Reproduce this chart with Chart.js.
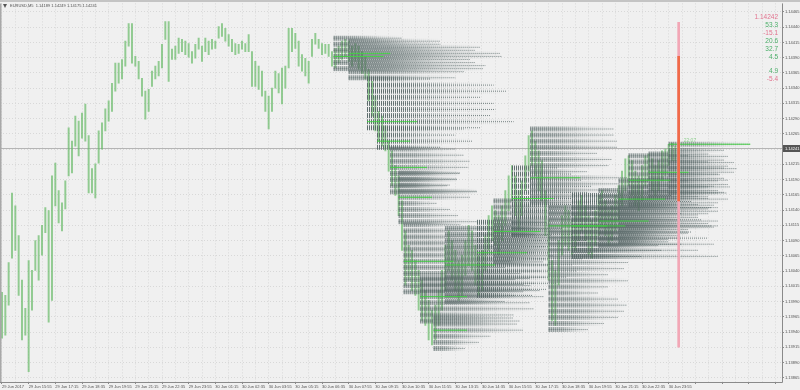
<!DOCTYPE html>
<html>
<head>
<meta charset="utf-8">
<script src="https://cdn.jsdelivr.net/npm/chart.js@4.4.1/dist/chart.umd.min.js"></script>
<style>
  html, body { margin: 0; padding: 0; background: #f0f0f0; }
  #wrap { width: 800px; height: 390px; }
</style>
</head>
<body>
<div id="wrap"><canvas id="chart" width="800" height="390"></canvas></div>
<script>
// ---- data -------------------------------------------------------------
// EURUSD M5, one column = 2 bars (10 min), column j sits at bar index 2*j
const barHigh = [
  1.14005,1.14000,1.14054,1.14168,1.14147,1.14098,1.14025,1.13979,1.14057,1.14041,
  1.14090,1.14098,1.14115,1.14144,1.14139,1.14196,1.14217,1.14172,1.14152,1.14188,
  1.14275,1.14253,1.14294,1.14286,1.14299,1.14314,1.14262,1.14208,1.14216,1.14270,
  1.14283,1.14306,1.14319,1.14348,1.14381,1.14381,1.14387,1.14417,1.14446,1.14446,
  1.14392,1.14384,1.14356,1.14335,1.14338,1.14368,1.14376,1.14384,1.14412,1.14449,
  1.14449,1.14404,1.14409,1.14422,1.14420,1.14417,1.14413,1.14400,1.14412,1.14422,
  1.14409,1.14422,1.14417,1.14420,1.14417,1.14441,1.14446,1.14438,1.14428,1.14420,
  1.14413,1.14412,1.14417,1.14413,1.14428,1.14400,1.14384,1.14376,1.14368,1.14335,
  1.14327,1.14340,1.14368,1.14364,1.14373,1.14376,1.14438,1.14438,1.14430,1.14417,
  1.14395,1.14389,1.14384,1.14420,1.14430,1.14420,1.14413,1.14412,1.14412,1.14400,
  1.14405,1.14409,1.14417,1.14420,1.14417,1.14409,1.14413,1.14409,1.14400,1.14392,
  1.14371,1.14351,1.14327,1.14302,1.14294,1.14278,1.14253,1.14237,1.14213,1.14196,
  1.14155,1.14106,1.14082,1.14074,1.14057,1.14041,1.14025,1.14008,1.13992,1.13976,
  1.13984,1.14008,1.14041,1.14082,1.14106,1.14090,1.14074,1.14057,1.14066,1.14090,
  1.14115,1.14106,1.14082,1.14066,1.14074,1.14098,1.14131,1.14147,1.14139,1.14131,
  1.14147,1.14172,1.14196,1.14213,1.14196,1.14172,1.14188,1.14229,1.14262,1.14270,
  1.14253,1.14237,1.14221,1.14172,1.14123,1.14057,1.14041,1.14090,1.14131,1.14147,
  1.14139,1.14123,1.14131,1.14155,1.14164,1.14147,1.14131,1.14123,1.14139,1.14164,
  1.14172,1.14155,1.14139,1.14147,1.14164,1.14180,1.14204,1.14224,1.14229,1.14221,
  1.14204,1.14196,1.14213,1.14229,1.14232,1.14224,1.14213,1.14221,1.14237,1.14240,
  1.14248,1.14250,1.14245,1.14249
];
const barLow = [
  1.13930,1.13935,1.13984,1.14061,1.14074,1.14000,1.13927,1.13935,1.13875,1.13976,
  1.14041,1.14025,1.14066,1.14103,1.13956,1.13992,1.14147,1.14119,1.14106,1.14142,
  1.14196,1.14201,1.14245,1.14229,1.14258,1.14253,1.14168,1.14168,1.14160,1.14217,
  1.14240,1.14270,1.14286,1.14302,1.14335,1.14348,1.14355,1.14376,1.14409,1.14381,
  1.14376,1.14355,1.14327,1.14289,1.14302,1.14343,1.14355,1.14360,1.14373,1.14420,
  1.14351,1.14387,1.14387,1.14397,1.14400,1.14395,1.14391,1.14381,1.14389,1.14404,
  1.14384,1.14400,1.14395,1.14404,1.14405,1.14422,1.14425,1.14417,1.14409,1.14400,
  1.14395,1.14397,1.14404,1.14400,1.14400,1.14343,1.14343,1.14338,1.14327,1.14302,
  1.14273,1.14302,1.14340,1.14332,1.14314,1.14340,1.14373,1.14400,1.14405,1.14376,
  1.14368,1.14360,1.14348,1.14392,1.14412,1.14405,1.14395,1.14397,1.14392,1.14376,
  1.14373,1.14381,1.14387,1.14392,1.14384,1.14376,1.14384,1.14371,1.14364,1.14355,
  1.14319,1.14294,1.14270,1.14253,1.14245,1.14237,1.14204,1.14180,1.14164,1.14131,
  1.14074,1.14017,1.14025,1.14008,1.14000,1.13976,1.13959,1.13951,1.13927,1.13919,
  1.13927,1.13951,1.13976,1.14008,1.14041,1.14025,1.14008,1.13992,1.14000,1.14033,
  1.14049,1.14041,1.14017,1.14000,1.14008,1.14041,1.14074,1.14090,1.14082,1.14066,
  1.14090,1.14115,1.14139,1.14155,1.14131,1.14106,1.14131,1.14172,1.14204,1.14213,
  1.14196,1.14172,1.14155,1.14098,1.14025,1.13959,1.13951,1.14017,1.14066,1.14082,
  1.14074,1.14066,1.14074,1.14090,1.14106,1.14090,1.14066,1.14061,1.14082,1.14098,
  1.14115,1.14098,1.14082,1.14090,1.14106,1.14123,1.14147,1.14172,1.14180,1.14164,
  1.14147,1.14139,1.14155,1.14180,1.14188,1.14172,1.14164,1.14172,1.14188,1.14196,
  1.14213,1.14221,1.14221,1.14175
];

// market profile blocks: start bar, top row price, row lengths (bars) per 0.0001 row
const profStep = 0.0001;
const profStart = [199,208,219,225,233,238,241,251,259,266,285,295,306,317,328,342,358,370,376,388,400];
const profTop = [1.14422,1.14417,1.14355,1.14273,1.14240,1.14201,1.14116,1.14028,1.13963,1.14110,
                 1.14120,1.14155,1.14209,1.14273,1.14144,1.14164,1.14172,1.14188,1.14229,1.14232,1.14248];
const profLen = [
  [41,64,85,101,85,90],
  [55,79,91,73,82,69,64],
  [38,76,84,68,76,77,74,88,68],
  [52,47,57,38],
  [39,44,48,47,42,40,34,52],
  [37,35,31,47,43,23,31,36,47],
  [34,40,46,52,58,55,64,61,70,67,76,72],
  [66,62,72,74,66,68,56,60],
  [48,50,54,34,27,19],
  [48,54,57,60,54,60,63,57,60,54,51,42,36],
  [42,51,57,66,60,69,63,57,60,54,48,42,33],
  [33,42,51,57,54,60,57,51,45,36,30],
  [27,36,42,48,45,54,51,48,42,36,30,24],
  [50,50,52,52,40,49,47,34,58,54,48,42,36],
  [102,96,78,102,84,78,99,90,102,48,45,36,48,36,30,42,47,45,42,33,24],
  [60,72,84,66,78,84,72,81,66,54,42],
  [48,60,72,66,60,72,69,54,42,36],
  [42,54,60,66,57,60,48,54,42,36,30],
  [36,48,57,54,60,51,57,48,42],
  [36,45,48,51,45,48,42,36],
  [49,33,36,39,41,31,30,37,35]
];
// point of control per block: row index and drawn length (bars)
const pocRow = [3,2,7,2,3,4,6,3,2,6,5,5,5,8,3,5,5,3,4,3,0];
const pocLen = [30,25,30,20,22,20,30,28,20,30,30,28,25,30,35,32,30,28,25,24,49];

// session marker (vertical line)
const markerBar = 406;
const markerRange = [1.13915, 1.14448];
const markerBody = [1.14155, 1.14392];

const lastBid = 1.14241;
const headerText = 'EURUSD,M5  1.14189 1.14249 1.14175 1.14241';
const sideValues = ['1.14242','53.3','-15.1','20.6','32.7','4.5','','4.9','-5.4'];

const yTicks = [1.13865,1.13890,1.13915,1.13940,1.13965,1.13990,1.14015,1.14040,1.14065,1.14090,
                1.14115,1.14140,1.14165,1.14190,1.14215,1.14240,1.14265,1.14290,1.14315,1.14340,
                1.14365,1.14390,1.14415,1.14440,1.14465];
const xLabels = ['29 Jun 2017','29 Jun 15:55','29 Jun 17:15','29 Jun 18:35','29 Jun 19:55','29 Jun 21:15',
                 '29 Jun 22:35','29 Jun 23:55','30 Jun 01:15','30 Jun 02:35','30 Jun 03:55','30 Jun 05:15',
                 '30 Jun 06:35','30 Jun 07:55','30 Jun 09:15','30 Jun 10:35','30 Jun 11:55','30 Jun 13:15',
                 '30 Jun 14:35','30 Jun 15:55','30 Jun 17:15','30 Jun 18:35','30 Jun 19:55','30 Jun 21:15',
                 '30 Jun 22:35','30 Jun 23:55'];

// ---- build datasets ---------------------------------------------------
const barPoints = barHigh.map((h, j) => ({ x: j * 2, y: [barLow[j], h] }));

// each row is a two point segment, a y:null point breaks the line
const profilePoints = [];
profStart.forEach((start, b) => {
  profLen[b].forEach((len, r) => {
    const price = profTop[b] - r * profStep;
    profilePoints.push({ x: start, y: price }, { x: start + len, y: price }, { x: start + len, y: null });
  });
});

const pocPoints = [];
profStart.forEach((start, b) => {
  const price = profTop[b] - pocRow[b] * profStep;
  pocPoints.push({ x: start, y: price }, { x: start + pocLen[b], y: price }, { x: start + pocLen[b], y: null });
});

// dense hatch near the block start, fading out along the row
function coreStroke(ctx) {
  if (!ctx.p0 || !ctx.p1) return 'rgba(80,96,96,0.6)';
  const g = ctx.chart.ctx.createLinearGradient(ctx.p0.x, 0, ctx.p1.x + 1, 0);
  g.addColorStop(0, 'rgba(84,100,100,0.92)');
  g.addColorStop(0.3, 'rgba(84,100,100,0.78)');
  g.addColorStop(0.7, 'rgba(84,100,100,0.2)');
  g.addColorStop(1, 'rgba(84,100,100,0)');
  return g;
}

const FONT = "'Liberation Sans', Arial, sans-serif";

const overlay = {
  id: 'overlay',
  beforeDraw(chart) {
    const c = chart.ctx;
    c.save();
    c.fillStyle = '#f0f0f0';
    c.fillRect(0, 0, chart.width, chart.height);
    c.restore();
  },
  beforeDatasetsDraw(chart) {
    const c = chart.ctx, a = chart.chartArea;
    const y = Math.round(chart.scales.y.getPixelForValue(lastBid)) + 0.5;
    c.save();
    c.strokeStyle = '#b4b4b4';
    c.lineWidth = 1;
    c.beginPath(); c.moveTo(a.left, y); c.lineTo(a.right, y); c.stroke();
    c.restore();
  },
  afterDraw(chart) {
    const c = chart.ctx, a = chart.chartArea;
    const ys = chart.scales.y, xs = chart.scales.x;
    c.save();
    // frame
    c.fillStyle = '#c4c4c4';
    c.fillRect(0, 0, chart.width, 2);
    c.strokeStyle = '#a8a8a8';
    c.lineWidth = 1.5;
    c.beginPath(); c.moveTo(0.75, a.top); c.lineTo(0.75, a.bottom); c.stroke();
    c.strokeStyle = '#8a8a8a';
    c.lineWidth = 1;
    c.beginPath();
    c.moveTo(a.right + 0.5, a.top); c.lineTo(a.right + 0.5, a.bottom + 0.5); c.lineTo(a.left, a.bottom + 0.5);
    c.stroke();

    // current price box
    const by = ys.getPixelForValue(lastBid);
    c.fillStyle = '#555555';
    c.fillRect(a.right + 1, by - 3.5, chart.width - a.right - 1, 7);
    c.fillStyle = '#ffffff';
    c.font = '4px ' + FONT;
    c.textBaseline = 'middle';
    c.textAlign = 'left';
    c.fillText(lastBid.toFixed(5), a.right + 3, by);

    // header
    c.fillStyle = '#555555';
    c.beginPath(); c.moveTo(3, 4); c.lineTo(7, 4); c.lineTo(5, 8); c.closePath(); c.fill();
    c.fillStyle = '#505050';
    c.font = '4px ' + FONT;
    c.fillText(headerText, 10, 6);

    // side panel values
    c.font = '6.5px ' + FONT;
    c.textAlign = 'right';
    const rowY = [17, 25, 33, 41, 49, 57, 64, 71, 79];
    sideValues.forEach((t, k) => {
      if (!t) return;
      c.fillStyle = (t.startsWith('-') || k === 0) ? '#e2738f' : '#4caf6a';
      c.fillText(t, 778, rowY[k]);
    });

    // session time label
    const lb = profStart.length - 1;
    c.font = '5px ' + FONT;
    c.textAlign = 'left';
    c.fillStyle = '#8fcf8f';
    c.fillText('22:07', xs.getPixelForValue(profStart[lb] + 9), ys.getPixelForValue(profTop[lb]) - 4);
    c.restore();
  }
};

new Chart(document.getElementById('chart'), {
  type: 'bar',
  data: {
    datasets: [
      {
        type: 'bar', label: 'price', data: barPoints, order: 6, grouped: false,
        backgroundColor: 'rgba(104,186,104,0.7)', barThickness: 1.3, borderWidth: 0
      },
      {
        type: 'line', label: 'profile tail', data: profilePoints, order: 5,
        borderColor: 'rgba(84,100,100,0.75)', borderWidth: 1, borderDash: [1, 1],
        pointRadius: 0, spanGaps: false, tension: 0
      },
      {
        type: 'line', label: 'profile core', data: profilePoints, order: 4,
        borderColor: 'rgba(84,100,100,0.7)', borderWidth: 5, borderDash: [1, 1],
        pointRadius: 0, spanGaps: false, tension: 0,
        segment: { borderColor: coreStroke }
      },
      {
        type: 'line', label: 'poc', data: pocPoints, order: 2,
        borderColor: 'rgba(62,214,62,0.9)', borderWidth: 1,
        pointRadius: 0, spanGaps: false, tension: 0
      },
      {
        type: 'bar', label: 'marker', order: 1, grouped: false,
        data: [{ x: markerBar, y: markerRange }],
        backgroundColor: '#f2a7b6', barThickness: 2, borderWidth: 0
      },
      {
        type: 'bar', label: 'markerBody', order: 0, grouped: false,
        data: [{ x: markerBar, y: markerBody }],
        backgroundColor: '#f06a48', barThickness: 2, borderWidth: 0
      }
    ]
  },
  options: {
    responsive: false,
    animation: false,
    devicePixelRatio: 1,
    layout: { padding: { top: 2, left: 0, right: 0, bottom: 0 } },
    plugins: { legend: { display: false }, tooltip: { enabled: false } },
    scales: {
      x: {
        type: 'linear', offset: false, min: -1.2, max: 468,
        grid: {
          offset: false, color: '#d8d8d8', lineWidth: 1, tickLength: 2,
          tickColor: ctx => (ctx.index % 2 === 0 ? '#8a8a8a' : 'rgba(0,0,0,0)')
        },
        border: { display: false, dash: [1, 2] },
        afterBuildTicks: axis => {
          const t = [];
          for (let v = 0; v <= 464; v += 8) t.push({ value: v });
          axis.ticks = t;
        },
        afterFit: axis => { axis.height = 8; },
        ticks: {
          autoSkip: false, maxRotation: 0, align: 'start', padding: 0,
          color: '#505050', font: { size: 4, family: FONT },
          callback: v => (v % 16 === 0 ? (xLabels[v / 16] || '') : '')
        }
      },
      y: {
        type: 'linear', position: 'right', min: 1.13858, max: 1.14479, beginAtZero: false,
        grid: { color: '#d8d8d8', lineWidth: 1, tickLength: 2, tickColor: '#8a8a8a' },
        border: { display: false, dash: [1, 2] },
        afterBuildTicks: axis => { axis.ticks = yTicks.map(v => ({ value: v })); },
        afterFit: axis => { axis.width = 18; },
        ticks: {
          padding: 1, color: '#505050', font: { size: 4, family: FONT },
          callback: v => v.toFixed(5)
        }
      }
    }
  },
  plugins: [overlay]
});
</script>
</body>
</html>
